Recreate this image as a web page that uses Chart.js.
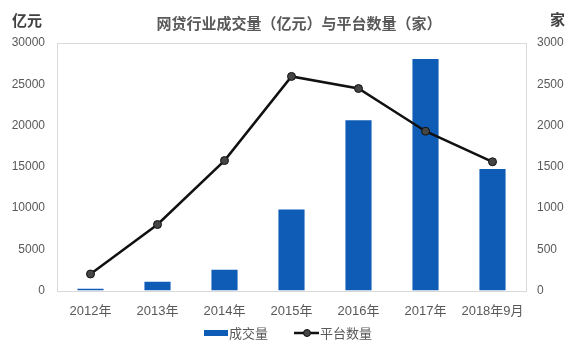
<!DOCTYPE html>
<html>
<head>
<meta charset="utf-8">
<script src="https://cdn.jsdelivr.net/npm/chart.js@4.4.1/dist/chart.umd.min.js"></script>
<style>
  html, body { margin: 0; padding: 0; background: #ffffff; }
  #wrap { position: relative; width: 580px; height: 344px; }
</style>
</head>
<body>
<div id="wrap"><canvas id="c" width="580" height="344"></canvas></div>
<script>
const chartTitle = "网贷行业成交量（亿元）与平台数量（家）";
const leftUnit = "亿元";
const rightUnit = "家";
const categories = ["2012年", "2013年", "2014年", "2015年", "2016年", "2017年", "2018年9月"];
const volumeLabel = "成交量";
const volumeValues = [212, 1058, 2528, 9823, 20639, 28048, 14730];
const platformLabel = "平台数量";
const platformValues = [200, 800, 1575, 2595, 2448, 1931, 1560];
const leftTicks = [0, 5000, 10000, 15000, 20000, 25000, 30000];
const rightTicks = [0, 500, 1000, 1500, 2000, 2500, 3000];

const FONT = '"Liberation Sans", "Noto Sans CJK SC", Arial, sans-serif';
const CJK = '"Noto Sans CJK SC", "Liberation Sans", sans-serif';
const TEXT = '#595959';
const BAR = '#0f5cb6';

const decorPlugin = {
  id: 'decor',
  beforeDatasetsDraw(chart) {
    const { ctx, chartArea: a } = chart;
    ctx.save();
    ctx.strokeStyle = '#d9d9d9';
    ctx.lineWidth = 1;
    ctx.strokeRect(Math.round(a.left) + 0.5, Math.round(a.top) + 0.5,
      Math.round(a.right - a.left), Math.round(a.bottom - a.top));
    ctx.restore();
  },
  afterDraw(chart) {
    const { ctx } = chart;
    ctx.save();
    ctx.textBaseline = 'middle';
    ctx.fillStyle = TEXT;
    ctx.font = 'bold 15px ' + CJK;
    ctx.textAlign = 'center';
    ctx.fillText(chartTitle, 299, 23);
    ctx.fillStyle = '#404040';
    ctx.font = 'bold 15px ' + CJK;
    ctx.textAlign = 'left';
    ctx.fillText(leftUnit, 12, 20);
    ctx.fillText(rightUnit, 550, 19);
    const ly = 333;
    const ds = chart.data.datasets;
    ctx.fillStyle = ds[0].backgroundColor;
    ctx.fillRect(204, ly - 3, 24, 6);
    ctx.fillStyle = TEXT;
    ctx.font = '13px ' + CJK;
    ctx.fillText(ds[0].label, 229, ly);
    ctx.strokeStyle = ds[1].borderColor;
    ctx.lineWidth = 2.5;
    ctx.beginPath();
    ctx.moveTo(294, ly);
    ctx.lineTo(319, ly);
    ctx.stroke();
    ctx.beginPath();
    ctx.arc(307, ly, 3.5, 0, Math.PI * 2);
    ctx.fillStyle = ds[1].pointBackgroundColor;
    ctx.fill();
    ctx.lineWidth = 1;
    ctx.stroke();
    ctx.fillStyle = TEXT;
    ctx.fillText(ds[1].label, 320, ly);
    ctx.restore();
  }
};

new Chart(document.getElementById('c'), {
  data: {
    labels: categories,
    datasets: [
      {
        type: 'bar',
        label: volumeLabel,
        data: volumeValues,
        yAxisID: 'y',
        backgroundColor: BAR,
        borderWidth: 0,
        categoryPercentage: 1,
        barPercentage: 0.39,
        order: 1
      },
      {
        type: 'line',
        label: platformLabel,
        data: platformValues,
        yAxisID: 'y1',
        borderColor: '#111111',
        borderWidth: 2.5,
        pointBackgroundColor: '#454545',
        pointBorderColor: '#111111',
        pointBorderWidth: 1,
        pointRadius: 4,
        tension: 0,
        fill: false,
        order: 0
      }
    ]
  },
  options: {
    responsive: false,
    animation: false,
    devicePixelRatio: 1,
    layout: { padding: { top: 43, left: 0, right: 0, bottom: 0 } },
    plugins: {
      legend: { display: false },
      title: { display: false },
      tooltip: { enabled: false }
    },
    scales: {
      x: {
        type: 'category',
        offset: true,
        grid: { display: false, drawTicks: false },
        border: { display: false },
        ticks: { color: TEXT, font: { family: FONT, size: 13 }, padding: 13, maxRotation: 0, autoSkip: false },
        afterFit(s) { s.height = 53.5; }
      },
      y: {
        position: 'left',
        min: 0, max: 30000,
        afterBuildTicks(s) { s.ticks = leftTicks.map(v => ({ value: v })); },
        grid: { display: false, drawTicks: false },
        border: { display: false },
        ticks: { color: TEXT, font: { family: FONT, size: 12 }, padding: 12, callback: v => String(v) },
        afterFit(s) { s.width = 57; }
      },
      y1: {
        position: 'right',
        min: 0, max: 3000,
        afterBuildTicks(s) { s.ticks = rightTicks.map(v => ({ value: v })); },
        grid: { display: false, drawTicks: false },
        border: { display: false },
        ticks: { color: TEXT, font: { family: FONT, size: 12 }, padding: 11, callback: v => String(v) },
        afterFit(s) { s.width = 54; }
      }
    }
  },
  plugins: [decorPlugin]
});
</script>
</body>
</html>
